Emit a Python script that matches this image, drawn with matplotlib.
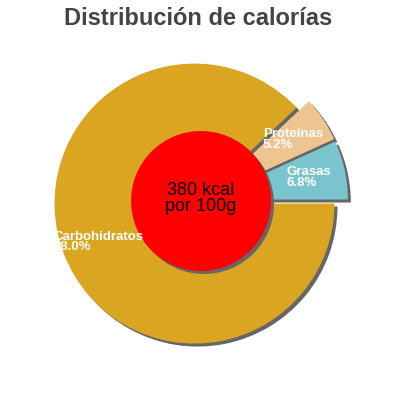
import numpy as np
import matplotlib
matplotlib.use("Agg")
import matplotlib.pyplot as plt
from matplotlib.patches import Circle

plt.rcParams['font.family'] = ['Liberation Sans', 'DejaVu Sans']

labels = ['Grasas', 'Proteínas', 'Carbohidratos']
values = [6.8, 5.2, 88.0]
colors = ['#7AC5CD', '#EEC591', '#DAA520']
title = 'Distribución de calorías'
center_text = '380 kcal\npor 100g'

R_PX = 140.0
fig = plt.figure(figsize=(4, 4), dpi=100)
ax = fig.add_axes([0, 0, 1, 1])

explode = [0.05] * len(values)
sh = 3.0 / R_PX

# shadow
ax.pie(values, colors=['#666666'] * len(values), explode=explode, radius=1,
       startangle=0, counterclock=True, center=(sh, -sh),
       wedgeprops=dict(linewidth=0))
# main pie
ax.pie(values, colors=colors, explode=explode, radius=1,
       startangle=0, counterclock=True,
       wedgeprops=dict(linewidth=0))

# center disc with shadow
ax.add_patch(Circle((sh, -sh), 0.5, color='#666666', lw=0, zorder=3))
ax.add_patch(Circle((0, 0), 0.5, color='#FF0000', lw=0, zorder=4))
ax.text(0, 0.02, center_text, ha='center', va='center', fontsize=13,
        color='black', linespacing=0.95, zorder=5)

# slice labels
total = sum(values)
start = 0.0
for lab, v in zip(labels, values):
    mid = np.deg2rad(start + 360.0 * v / total / 2)
    r = 0.79
    ax.text(r * np.cos(mid), r * np.sin(mid), f'{lab}\n{v / total * 100:.1f}%',
            ha='center', va='center', multialignment='left', fontsize=9.5,
            fontweight='bold', color='white', linespacing=0.8, zorder=6)
    start += 360.0 * v / total

ax.set_xlim(-201 / R_PX, 199 / R_PX)
ax.set_ylim(-199 / R_PX, 201 / R_PX)
ax.set_aspect('equal')
ax.axis('off')

fig.text(198 / 400, 1 - 25 / 400, title, ha='center', va='baseline',
         fontsize=17, fontweight='bold', color='#444444')

fig.savefig('out.png', dpi=100)
